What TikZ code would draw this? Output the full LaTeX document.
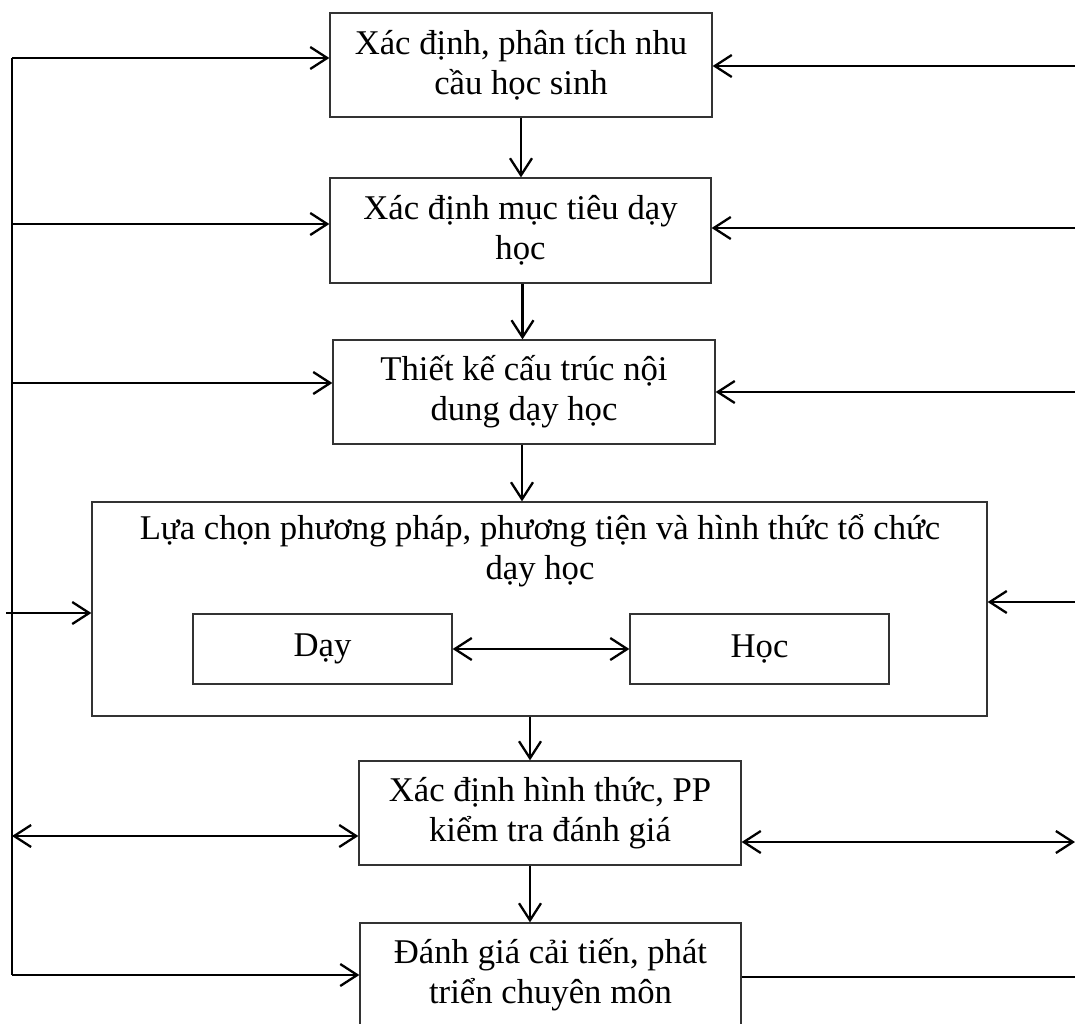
\documentclass[tikz,border=0pt]{standalone}
\usepackage{fontspec}
\setmainfont{Liberation Serif}
\usetikzlibrary{arrows.meta,calc}
\begin{document}
\begin{tikzpicture}[x=1pt,y=-1pt,
  txt/.style={font=\fontsize{34.7}{40}\selectfont},
  box/.style={txt, draw=black!80, line width=1.3pt, rectangle, inner sep=0pt, align=center},
  tip/.tip={Straight Barb[length=17pt,width=22pt,line width=2.3pt]},
  arr/.style={line width=2.3pt, -tip},
  darr/.style={line width=2.3pt, tip-tip},
  ln/.style={line width=2.3pt}]
\useasboundingbox (0,0) rectangle (1075,1023);

% boxes
\node[box, minimum width=382pt, minimum height=104pt] (b1) at (521,65) {Xác định, phân tích nhu\\cầu học sinh};
\node[box, minimum width=381pt, minimum height=105pt] (b2) at (520.5,230.5) {Xác định mục tiêu dạy\\học};
\node[box, minimum width=382pt, minimum height=104pt] (b3) at (524,392) {Thiết kế cấu trúc nội\\dung dạy học};
\node[box, minimum width=895pt, minimum height=214pt] (b4) at (539.5,609) {};
\node[txt, align=center, anchor=north, inner sep=0pt] (b4t) at (540,514) {Lựa chọn phương pháp, phương tiện và hình thức tổ chức\\dạy học};
\node[box, minimum width=259pt, minimum height=70pt] (day) at (322.5,649) {Dạy};
\node[box, minimum width=259pt, minimum height=70pt] (hoc) at (759.5,649) {Học};
\node[box, minimum width=382pt, minimum height=104pt] (b5) at (550,813) {Xác định hình thức, PP\\kiểm tra đánh giá};
\node[box, minimum width=381pt, minimum height=104pt] (b6) at (550.5,975) {Đánh giá cải tiến, phát\\triển chuyên môn};

% vertical flow
\draw[arr] (b1.south) -- (b1.south |- b2.north);
\draw[arr] ([xshift=2pt]b2.south) -- ([xshift=2pt]b2.south |- b3.north);
\draw[arr] ([xshift=-2pt]b3.south) -- ([xshift=-2pt]b3.south |- b4.north);
\draw[arr] ([xshift=-20pt]b5.north |- b4.south) -- ([xshift=-20pt]b5.north);
\draw[arr] ([xshift=-20pt]b5.south) -- ([xshift=-20pt]b5.south |- b6.north);

% inner double arrow
\draw[darr] (day.east) -- (hoc.west);

% left bus
\coordinate (lt) at (12,58);
\coordinate (lb) at (12,975);
\draw[ln] (lt) -- (lb);
\coordinate (l2) at (12,224);
\coordinate (l3) at (12,383);
\coordinate (l4) at (6,613);
\coordinate (l5) at (12,836);
\draw[arr] (lt) -- (lt -| b1.west);
\draw[arr] (l2) -- (l2 -| b2.west);
\draw[arr] (l3) -- (l3 -| b3.west);
\draw[arr] (l4) -- (l4 -| b4.west);
\draw[darr] (l5) -- (l5 -| b5.west);
\draw[arr] (lb) -- (lb -| b6.west);

% right side
\coordinate (r1) at (1076,66);
\coordinate (r2) at (1076,228);
\coordinate (r3) at (1076,392);
\coordinate (r4) at (1076,602);
\coordinate (r5) at (1075,842);
\coordinate (r6) at (1076,977);
\draw[arr] (r1) -- (r1 -| b1.east);
\draw[arr] (r2) -- (r2 -| b2.east);
\draw[arr] (r3) -- (r3 -| b3.east);
\draw[arr] (r4) -- (r4 -| b4.east);
\draw[darr] (r5 -| b5.east) -- (r5);
\draw[ln] (r6 -| b6.east) -- (r6);
\end{tikzpicture}
\end{document}
